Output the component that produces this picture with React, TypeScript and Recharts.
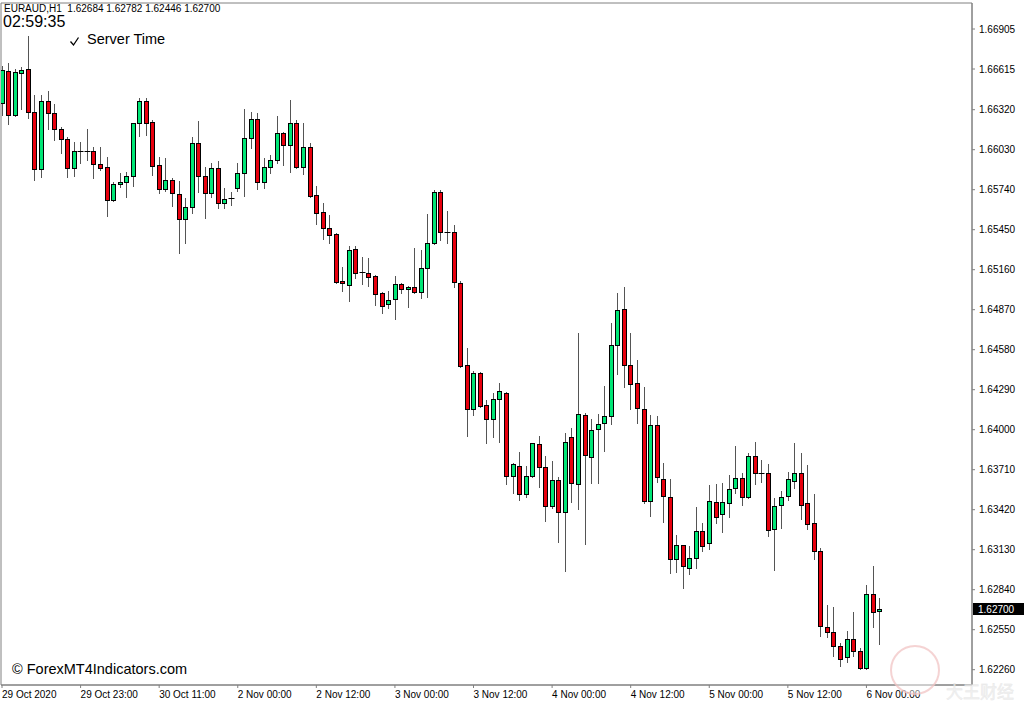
import React from "react";
import { ComposedChart, Bar, XAxis, YAxis, ReferenceArea } from "recharts";

// EURAUD H1, 29 Oct 2020 11:00 .. 6 Nov 2020 02:00
const opens = [
  1.66369, 1.66601, 1.66282, 1.66586, 1.66615, 1.66303, 1.6589, 1.66383, 1.66296, 1.6618,
  1.66108, 1.65897, 1.66021, 1.66021, 1.66021, 1.65926, 1.65905, 1.65665, 1.65781, 1.65796,
  1.65839, 1.66224, 1.66383, 1.66231, 1.65919, 1.65745, 1.6581, 1.65709, 1.65528, 1.65615,
  1.66079, 1.65839, 1.65716, 1.65897, 1.65644, 1.6568, 1.65752, 1.65861, 1.66115, 1.66253,
  1.65796, 1.65905, 1.65955, 1.66151, 1.66064, 1.66224, 1.65905, 1.6605, 1.65702, 1.65578,
  1.65462, 1.65419, 1.65078, 1.65049, 1.6531, 1.65143, 1.65136, 1.65114, 1.64991, 1.64911,
  1.64948, 1.65056, 1.6502, 1.65035, 1.64998, 1.65172, 1.65354, 1.65723, 1.65433, 1.65433,
  1.65064, 1.64469, 1.6415, 1.64411, 1.64179, 1.64078, 1.64223, 1.64266, 1.63664, 1.63737,
  1.63534, 1.63664, 1.63896, 1.6373, 1.63447, 1.63635, 1.63403, 1.63947, 1.63606, 1.64107,
  1.63802, 1.64005, 1.64049, 1.64099, 1.64614, 1.64875, 1.64469, 1.64339, 1.6415, 1.63483,
  1.64034, 1.63643, 1.63512, 1.63063, 1.63164, 1.62997, 1.6307, 1.63266, 1.63179, 1.63476,
  1.63389, 1.63469, 1.63577, 1.6365, 1.63512, 1.63809, 1.63686, 1.63686, 1.6328, 1.63454,
  1.63519, 1.63628, 1.63686, 1.63469, 1.63324, 1.63121, 1.6257, 1.62533, 1.62432, 1.62352,
  1.62483, 1.62396, 1.62272, 1.62809, 1.62684,
];

const highs = [
  1.66637, 1.66659, 1.66615, 1.6663, 1.66854, 1.66427, 1.66427, 1.66456, 1.66361, 1.66195,
  1.66122, 1.66086, 1.66086, 1.6618, 1.6605, 1.6605, 1.65977, 1.65796, 1.65861, 1.65868,
  1.66224, 1.66405, 1.66405, 1.66245, 1.65977, 1.6597, 1.65825, 1.65803, 1.6568, 1.66122,
  1.66238, 1.65905, 1.65934, 1.65948, 1.65752, 1.65723, 1.65934, 1.66325, 1.66303, 1.66296,
  1.6597, 1.65992, 1.66274, 1.66158, 1.6639, 1.66245, 1.66224, 1.66079, 1.65767, 1.65644,
  1.65557, 1.65426, 1.6518, 1.65332, 1.65332, 1.65252, 1.65245, 1.65122, 1.64998, 1.65006,
  1.65114, 1.65064, 1.65042, 1.65317, 1.65303, 1.65564, 1.65738, 1.65738, 1.65586, 1.65484,
  1.65078, 1.64592, 1.64426, 1.64418, 1.64215, 1.64266, 1.64339, 1.64273, 1.63759, 1.63838,
  1.63737, 1.63904, 1.63954, 1.63809, 1.63773, 1.63657, 1.63976, 1.64012, 1.64701, 1.64121,
  1.64078, 1.64114, 1.64317, 1.64774, 1.64991, 1.65035, 1.64701, 1.64505, 1.6431, 1.64107,
  1.64099, 1.63759, 1.63643, 1.63237, 1.63164, 1.63157, 1.6344, 1.63324, 1.63599, 1.63606,
  1.63614, 1.63672, 1.63882, 1.63686, 1.63831, 1.63911, 1.6378, 1.63751, 1.63505, 1.63556,
  1.63693, 1.63904, 1.63831, 1.63744, 1.63534, 1.63142, 1.62729, 1.62715, 1.62454, 1.62541,
  1.62678, 1.62417, 1.62874, 1.63012, 1.62782,
];

const lows = [
  1.66282, 1.66216, 1.66274, 1.66325, 1.6626, 1.6581, 1.65832, 1.6618, 1.661, 1.66006,
  1.65832, 1.65839, 1.65934, 1.65955, 1.65825, 1.65883, 1.65549, 1.65658, 1.6576, 1.65687,
  1.65767, 1.66129, 1.66137, 1.65847, 1.65716, 1.65731, 1.65622, 1.65281, 1.65354, 1.65571,
  1.65723, 1.65535, 1.65687, 1.65607, 1.65607, 1.65629, 1.65731, 1.65694, 1.66042, 1.65745,
  1.65752, 1.65861, 1.65934, 1.65919, 1.65868, 1.65897, 1.65854, 1.65687, 1.65491, 1.65383,
  1.65354, 1.65064, 1.65006, 1.64933, 1.651, 1.65056, 1.65042, 1.64904, 1.64846, 1.64882,
  1.64803, 1.64991, 1.6489, 1.64991, 1.64955, 1.64962, 1.65346, 1.65375, 1.65354, 1.65035,
  1.64455, 1.63954, 1.64107, 1.64165, 1.63904, 1.63947, 1.63911, 1.63606, 1.63541, 1.6349,
  1.63512, 1.63657, 1.63585, 1.63338, 1.63432, 1.63186, 1.62976, 1.63476, 1.63425, 1.63171,
  1.63614, 1.63614, 1.63846, 1.64041, 1.64404, 1.6431, 1.6415, 1.64049, 1.63469, 1.63374,
  1.63621, 1.63331, 1.62961, 1.62968, 1.62852, 1.62954, 1.62997, 1.63121, 1.63135, 1.63324,
  1.63258, 1.63367, 1.63541, 1.63454, 1.63505, 1.63606, 1.63621, 1.63229, 1.62983, 1.63287,
  1.6349, 1.63577, 1.63353, 1.6328, 1.63063, 1.62504, 1.62497, 1.62359, 1.62287, 1.62316,
  1.62359, 1.62265, 1.62265, 1.6257, 1.62446,
];

const closes = [
  1.66608, 1.66282, 1.66593, 1.66608, 1.66303, 1.6589, 1.66383, 1.66296, 1.6618, 1.66108,
  1.65897, 1.66021, 1.66021, 1.66021, 1.65926, 1.65897, 1.65665, 1.65781, 1.65796, 1.65839,
  1.66224, 1.66383, 1.66224, 1.65912, 1.65745, 1.6581, 1.65716, 1.65528, 1.65615, 1.66079,
  1.65839, 1.65716, 1.65897, 1.65644, 1.65673, 1.6568, 1.65861, 1.66115, 1.66253, 1.65796,
  1.65905, 1.65955, 1.66151, 1.66064, 1.66224, 1.65905, 1.6605, 1.65694, 1.65571, 1.65462,
  1.65412, 1.65071, 1.65064, 1.65303, 1.65136, 1.65143, 1.65107, 1.64984, 1.64897, 1.6494,
  1.65056, 1.6502, 1.65035, 1.64998, 1.65172, 1.65354, 1.65723, 1.65433, 1.65433, 1.65071,
  1.64462, 1.6415, 1.64411, 1.64172, 1.64078, 1.64223, 1.64281, 1.63664, 1.63751, 1.63534,
  1.63664, 1.63904, 1.6373, 1.63447, 1.63635, 1.63403, 1.63911, 1.63614, 1.64114, 1.63817,
  1.63998, 1.64041, 1.64099, 1.64614, 1.64868, 1.64469, 1.64331, 1.64157, 1.63483, 1.64034,
  1.63657, 1.63519, 1.63063, 1.63164, 1.63012, 1.6307, 1.63266, 1.63157, 1.63483, 1.63367,
  1.63476, 1.6357, 1.6365, 1.63512, 1.63809, 1.63686, 1.63686, 1.63273, 1.63447, 1.63512,
  1.63643, 1.63686, 1.63454, 1.63316, 1.63121, 1.62577, 1.62533, 1.62432, 1.62338, 1.62483,
  1.62396, 1.62272, 1.62809, 1.62678, 1.627,
];

const xTickIndex = [0, 12, 24, 36, 48, 60, 72, 84, 96, 108, 120, 132];
const xTickLabels = [
  "29 Oct 2020", "29 Oct 23:00", "30 Oct 11:00", "2 Nov 00:00", "2 Nov 12:00", "3 Nov 00:00",
  "3 Nov 12:00", "4 Nov 00:00", "4 Nov 12:00", "5 Nov 00:00", "5 Nov 12:00", "6 Nov 00:00",
];
const priceTicks = [
  1.66905, 1.66615, 1.6632, 1.6603, 1.6574, 1.6545, 1.6516, 1.6487, 1.6458,
  1.6429, 1.64, 1.6371, 1.6342, 1.6313, 1.6284, 1.6255, 1.6226,
];
const lastPrice = 1.627;

const X_DOMAIN: [number, number] = [-0.153, 148.12];
const Y_DOMAIN: [number, number] = [1.62149, 1.670935];

const BULL = "#00e676";
const BEAR = "#e8000e";
const FRAME = "#808080";
const FONT = "'Liberation Sans', Arial, sans-serif";

const rows = opens.map((o, i) => ({
  i,
  open: o,
  high: highs[i],
  low: lows[i],
  close: closes[i],
  range: [lows[i], highs[i]],
}));

function Candle(props: any) {
  const { x, y, width, height, payload } = props;
  if (x == null || !payload) return null;
  const { open, close, high, low } = payload;
  const top = Math.min(y, y + height);
  const bot = Math.max(y, y + height);
  const k = (bot - top) / (high - low || 1);
  const py = (p: number) => top + (high - p) * k;
  const cx = Math.floor(x + width / 2) + 0.5;
  const yo = py(open);
  const yc = py(close);
  const bTop = Math.round(Math.min(yo, yc)) + 0.5;
  const bBot = Math.round(Math.max(yo, yc)) + 0.5;
  const wick = (
    <line x1={cx} x2={cx} y1={Math.round(top)} y2={Math.round(bot) + 1} stroke="#555" strokeWidth={1} />
  );
  if (open === close) {
    return (
      <g>
        {wick}
        <line x1={cx - 3} x2={cx + 3} y1={bTop} y2={bTop} stroke="#000" strokeWidth={1} />
      </g>
    );
  }
  return (
    <g>
      {wick}
      <rect
        x={cx - 2}
        y={bTop}
        width={4}
        height={Math.max(bBot - bTop, 1)}
        fill={close > open ? BULL : BEAR}
        stroke="#000"
        strokeWidth={1}
      />
    </g>
  );
}

function TimeTick({ x, y, payload }: any) {
  const idx = xTickIndex.indexOf(payload.value);
  return (
    <text x={x} y={y + 8} fill="#000" fontSize={10} fontFamily={FONT} textAnchor="start">
      {xTickLabels[idx]}
    </text>
  );
}

function PriceTick({ x, y, payload }: any) {
  return (
    <text x={x + 1} y={y + 3.5} fill="#000" fontSize={10} fontFamily={FONT} textAnchor="start">
      {payload.value.toFixed(5)}
    </text>
  );
}

export default function App() {
  const lastY = 29 + ((1.66905 - lastPrice) / 0.0000725);
  return (
    <div style={{ position: "relative", width: 1024, height: 705, background: "#fff", overflow: "hidden" }}>
      <style>{`body{margin:0;}`}</style>
      <ComposedChart
        width={1024}
        height={705}
        data={rows}
        margin={{ top: 3, right: 0, bottom: 0, left: 1 }}
      >
        <XAxis
          dataKey="i"
          type="number"
          domain={X_DOMAIN}
          allowDataOverflow
          ticks={xTickIndex}
          interval={0}
          height={20}
          tickSize={3}
          tickMargin={2}
          tick={<TimeTick />}
          axisLine={{ stroke: FRAME }}
          tickLine={{ stroke: FRAME }}
        />
        <YAxis
          orientation="right"
          type="number"
          domain={Y_DOMAIN}
          allowDataOverflow
          ticks={priceTicks}
          interval={0}
          width={52}
          tickSize={3}
          tickMargin={3}
          tick={<PriceTick />}
          axisLine={{ stroke: FRAME }}
          tickLine={{ stroke: FRAME }}
        />
        <ReferenceArea
          x1={X_DOMAIN[0]}
          x2={X_DOMAIN[1]}
          y1={Y_DOMAIN[0]}
          y2={Y_DOMAIN[1]}
          fill="none"
          stroke={FRAME}
          ifOverflow="visible"
        />
        <Bar dataKey="range" barSize={5} shape={Candle} isAnimationActive={false} />
      </ComposedChart>

      <svg
        width={1024}
        height={705}
        style={{ position: "absolute", left: 0, top: 0, pointerEvents: "none" }}
      >
        <text x={4} y={12} fontSize={10} fontFamily={FONT} fill="#000">
          EURAUD,H1{"\u00a0\u00a0"}1.62684 1.62782 1.62446 1.62700
        </text>
        <text x={3} y={27} fontSize={16} fontFamily={FONT} fill="#000">
          02:59:35
        </text>
        <path d="M70.5,41.5 L73.5,45 L78.5,37.5" fill="none" stroke="#000" strokeWidth={1.3} />
        <text x={87} y={44} fontSize={14.5} fontFamily={FONT} fill="#000">
          Server Time
        </text>
        <text x={12} y={674} fontSize={14.5} fontFamily={FONT} fill="#000">
          © ForexMT4Indicators.com
        </text>
        <rect x={973} y={Math.round(lastY) - 6} width={51} height={12} fill="#000" />
        <text x={978} y={Math.round(lastY) + 4} fontSize={10} fontFamily={FONT} fill="#fff">
          {lastPrice.toFixed(5)}
        </text>
        <g opacity={0.8}>
          <circle cx={915} cy={670} r={24} fill="#fff" fillOpacity={0.6} stroke="#f3c9c9" strokeWidth={2} />
          <text x={946} y={698} fontSize={17} fontFamily="'Noto Sans CJK SC'" fill="#eeeeee" stroke="#e2e2e2" strokeWidth={0.4}>
            大王财经
          </text>
        </g>
      </svg>
    </div>
  );
}
